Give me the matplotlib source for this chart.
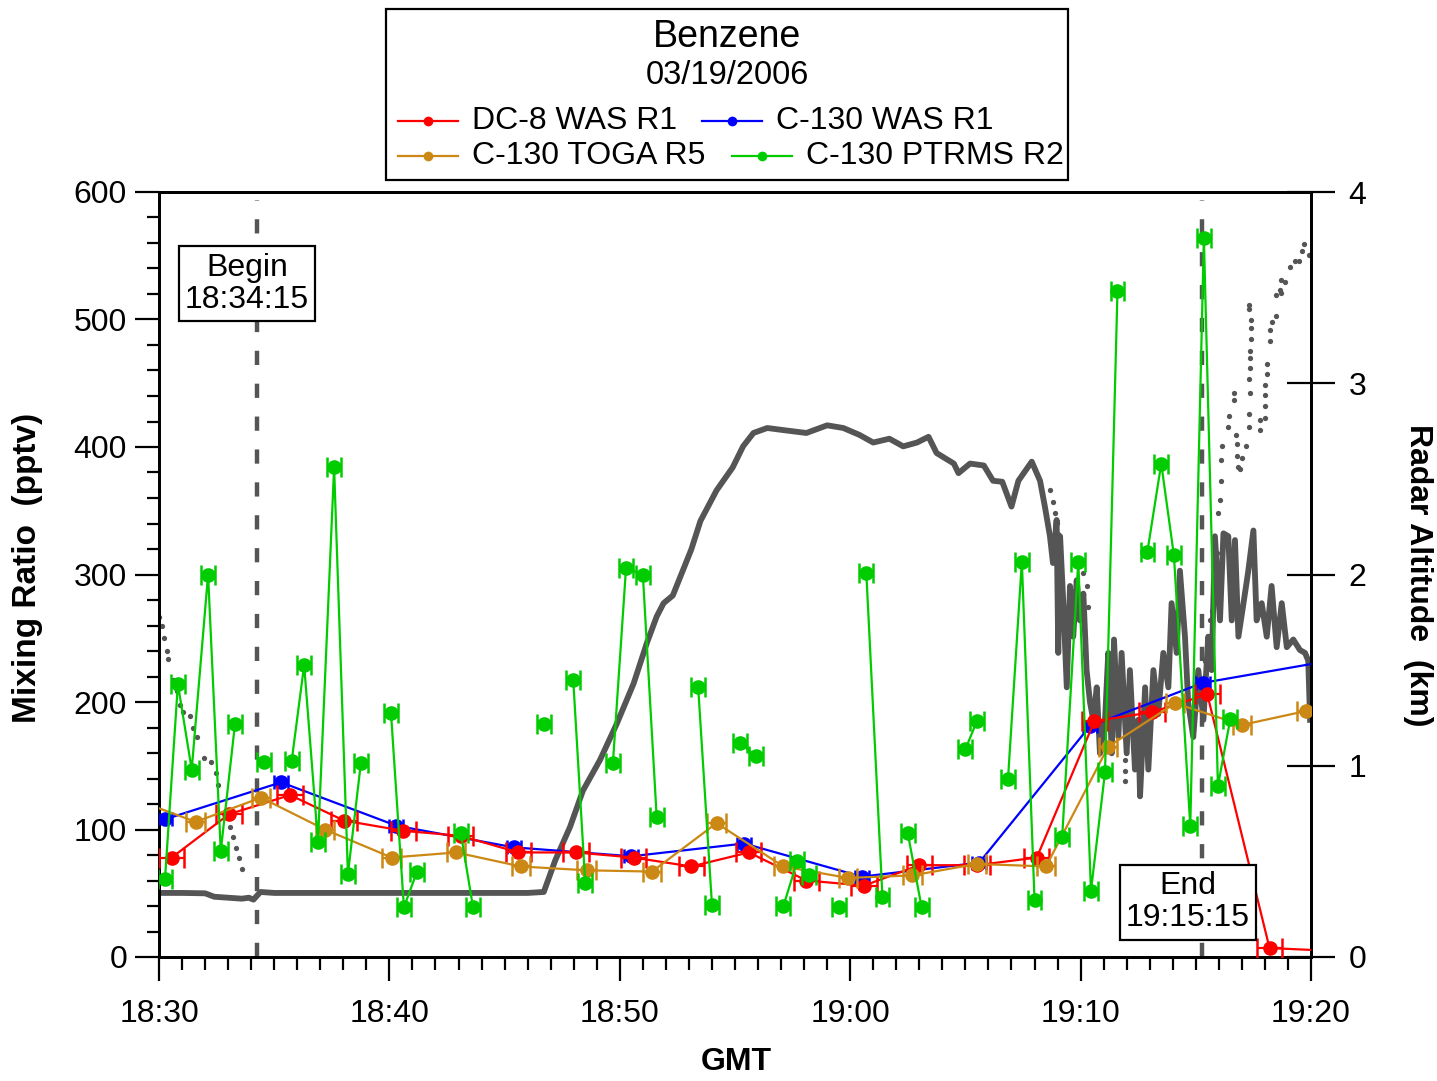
import numpy as np
import matplotlib
matplotlib.use("Agg")
import matplotlib.pyplot as plt
from matplotlib.lines import Line2D
from matplotlib.patches import Rectangle
from matplotlib.ticker import MultipleLocator

plt.rcParams['font.family'] = ['Liberation Sans', 'DejaVu Sans']
nan = np.nan

# ---------------- data (time in minutes after 18:30 GMT) ----------------
dc8_t = [0.55, 3.04, 5.69, 8.03, 10.6, 13.1, 15.6, 18.1, 20.6, 23.1, 25.6, 28.1,
         30.6, 33.0, 35.5, 38.1, 40.6, 43.1, 45.5, 48.2, 50.7]
dc8_v = [78, 112, 127, 107, 99, 95, 82, 82, 78, 71, 82, 60,
         56, 72, 72, 78, 185, 192, 206, 7, 5]
dc8_err = 0.55

c130was_t = [0.26, 5.3, 10.3, 15.4, 20.5, 25.4, 30.5, 35.6, 40.4, 45.3, 50.4]
c130was_v = [108, 137, 103, 86, 79, 89, 63, 74, 181, 215, 231]
c130was_err = 0.3

toga_t = [-0.5, 1.59, 4.43, 7.2, 10.1, 12.9, 15.7, 18.56, 21.4, 24.2, 27.1, 29.9,
          32.7, 35.5, 38.5, 41.2, 44.1, 47.0, 49.8]
toga_v = [120, 106, 125, 100, 78, 82, 71, 68, 67, 105, 71, 62,
          64, 73, 71, 165, 199, 182, 193]
toga_err = 0.4

ptrms_t = [0.26, 0.82, 1.42, 2.13, 2.68, 3.3, nan,
           4.56, nan,
           5.76, 6.3, 6.9, 7.6, 8.2, 8.76, nan,
           10.07, 10.63, 11.2, nan,
           13.1, 13.63, nan,
           16.7, nan,
           17.98, 18.5, nan,
           19.7, 20.27, 21.0, 21.6, nan,
           23.4, 24.0, nan,
           25.2, 25.9, nan,
           27.1, 27.7, 28.2, nan,
           29.5, nan,
           30.7, 31.4, nan,
           32.5, 33.1, nan,
           35.0, 35.5, nan,
           36.85, 37.45, 38.0, nan,
           39.2, 39.9, 40.45, 41.06, 41.6, nan,
           42.9, 43.5, 44.05, 44.76, 45.35, 45.96, 46.5]
ptrms_v = [61, 214, 147, 300, 83, 183, nan,
           153, nan,
           154, 229, 90, 384, 65, 152, nan,
           191, 39, 67, nan,
           97, 39, nan,
           183, nan,
           217, 58, nan,
           152, 305, 300, 110, nan,
           212, 41, nan,
           168, 158, nan,
           40, 75, 64, nan,
           39, nan,
           301, 47, nan,
           97, 39, nan,
           163, 185, nan,
           140, 310, 45, nan,
           94, 310, 52, 145, 522, nan,
           318, 387, 315, 103, 564, 134, 187]
ptrms_err = 0.3

# radar altitude (km), continuous record
alt_t = [0.0, 1.0, 2.0, 2.4, 3.0, 3.6, 3.9, 4.1, 4.4, 5.0, 8.0, 12.0, 16.0, 16.7,
         17.2, 17.84, 18.4, 19.14, 19.87, 20.6, 21.17, 21.6, 21.9, 22.3, 22.7, 23.1,
         23.5, 24.2, 24.9, 25.35, 25.8, 26.4, 27.1, 28.1, 29.0, 29.7, 30.4, 31.0,
         31.7, 32.3, 32.9, 33.4, 33.75, 34.5, 34.7, 35.2, 35.8, 36.2, 36.6, 37.0,
         37.3, 37.88, 38.24, 38.45, 38.67, 38.8,
         38.96, 39.03, 39.11, 39.25, 39.40, 39.54, 39.68, 39.83, 39.97, 40.12, 40.26,
         40.41, 40.55, 40.70, 40.84, 41.06, 41.20, 41.35, 41.45, 41.64, 41.78, 42.0,
         42.14, 42.36, 42.5, 42.58, 42.8, 42.94, 43.16, 43.37, 43.59, 43.81, 43.95,
         44.17, 44.31, 44.53, 44.67, 44.89, 45.11, 45.33, 45.54, 45.69, 45.83, 46.05,
         46.2, 46.41, 46.56, 46.7, 46.85, 47.07, 47.28, 47.5, 47.64, 47.86, 48.08,
         48.29, 48.51, 48.73, 48.95, 49.23, 49.52, 49.74, 49.88, 49.96]
alt_km = [0.335, 0.335, 0.333, 0.315, 0.31, 0.305, 0.31, 0.30, 0.34, 0.335, 0.335, 0.335,
          0.335, 0.34, 0.506, 0.68, 0.87, 1.03, 1.22, 1.43, 1.64, 1.78, 1.85, 1.89, 2.01,
          2.13, 2.28, 2.44, 2.56, 2.67, 2.74, 2.766, 2.755, 2.74, 2.78, 2.766, 2.73, 2.69,
          2.71, 2.67, 2.69, 2.72, 2.635, 2.58, 2.53, 2.58, 2.57, 2.49, 2.485, 2.355,
          2.49, 2.59, 2.49, 2.355, 2.20, 2.06,
          2.285, 1.59, 2.20, 1.85, 1.41, 1.94, 1.675, 1.97, 1.76, 1.90, 1.50,
          1.33, 1.24, 1.41, 1.065, 1.24, 1.59, 1.065, 1.66, 1.15, 1.59, 1.065,
          1.50, 0.98, 1.24, 0.84, 1.41, 0.98, 1.50, 1.27, 1.59, 1.41, 1.85,
          1.59, 2.02, 1.675, 1.33, 1.15, 1.50, 1.24, 1.675, 1.50, 2.20, 1.76,
          2.215, 2.20, 1.76, 2.18, 1.675, 1.85, 2.02, 2.23, 1.76, 1.85, 1.675,
          1.94, 1.62, 1.85, 1.62, 1.66, 1.605, 1.59, 1.55, 1.24]

# radar altitude (km), sparse second record (dots)
alt2_t = [0.01, 0.12, 0.22, 0.33, 0.39, 0.61, 0.77, 0.91, 1.03, 1.35, 1.46, 1.65,
          1.95, 2.24, 2.47, 2.57, 3.08, 3.2, 3.34, 3.49, 3.59,
          38.67, 38.8, 38.9, 38.96, 39.03, 39.1, 40.1, 40.26, 40.33,
          41.93, 41.93, 41.93,
          45.4, 45.47, 45.54, 45.61, 45.69, 45.74, 45.8, 45.86, 45.9,
          45.96, 46.03, 46.1, 46.1, 46.12, 46.4, 46.44, 46.66, 46.67, 46.74, 46.77,
          46.8, 46.83, 46.9, 47.0, 47.16, 47.3, 47.3, 47.34, 47.3, 47.34, 47.34,
          47.35, 47.4, 47.38, 47.38, 47.3, 47.3,
          47.8, 47.8, 48.0, 48.0, 48.0, 48.02, 48.1, 48.1, 48.2, 48.22, 48.3,
          48.5, 48.5, 48.67, 48.7, 48.7, 48.85, 49.1, 49.3, 49.5, 49.6, 49.7, 49.9]
alt2_km = [1.78, 1.73, 1.67, 1.60, 1.56, 1.45, 1.39, 1.32, 1.28, 1.26, 1.20, 1.15,
           1.04, 1.02, 0.96, 0.90, 0.68, 0.63, 0.57, 0.52, 0.46,
           2.44, 2.38, 2.32, 2.27, 2.21, 2.15, 2.01, 1.94, 1.83,
           1.03, 0.97, 0.92,
           1.55, 1.61, 1.67, 1.76, 1.81, 1.87, 1.95, 2.04, 2.11,
           2.32, 2.39, 2.49, 2.60, 2.67, 2.77, 2.83, 2.91, 2.95, 2.73, 2.68,
           2.62, 2.56, 2.55, 2.61, 2.67, 2.77, 2.84, 2.95, 3.02, 3.08, 3.13,
           3.17, 3.23, 3.29, 3.33, 3.39, 3.41,
           2.755, 2.81, 2.82, 2.88, 2.94, 2.99, 3.05, 3.10, 3.22, 3.28, 3.32,
           3.35, 3.46, 3.49, 3.54, 3.47, 3.53, 3.61, 3.64, 3.64, 3.69, 3.73, 3.67]

begin_t, end_t = 4.25, 45.25
xtick_pos = [0, 10, 20, 30, 40, 50]
xtick_labels = ['18:30', '18:40', '18:50', '19:00', '19:10', '19:20']

# ---------------- figure ----------------
W, H = 1437, 1081
fig = plt.figure(figsize=(W / 100, H / 100), dpi=100)
ax = fig.add_axes([159 / W, 1 - 957 / H, (1311 - 159) / W, (957 - 192) / H])
ax2 = ax.twinx()
ax.set_zorder(ax2.get_zorder() + 1)
ax.patch.set_visible(False)

gray = '#555555'
ax2.plot(alt_t, alt_km, color=gray, lw=4.2, solid_joinstyle='round', zorder=2)
ax2.plot(alt2_t, alt2_km, 'o', color=gray, ms=3.8, mew=0, zorder=2)
for tt in (begin_t, end_t):
    ax2.axvline(tt, ymin=0, ymax=0.99, color=gray, lw=3.2,
                dashes=(3.2, 4.2), zorder=1)

cfg = dict(fmt='o-', ms=9.5, lw=1.6, elinewidth=1.6, capthick=1.8)
ax.errorbar(c130was_t, c130was_v, xerr=c130was_err, color='#0000ff', capsize=5, zorder=3, **cfg)
ax.errorbar(dc8_t, dc8_v, xerr=dc8_err, color='#ff0000', capsize=7.5, zorder=4, **cfg)
ax.errorbar(toga_t, toga_v, xerr=toga_err, color='#cc8814', capsize=7.5, zorder=5, **cfg)
ax.errorbar(ptrms_t, ptrms_v, xerr=ptrms_err, color='#00cc00', capsize=7.5, zorder=6, **cfg)

box = dict(boxstyle='square,pad=0.2', fc='white', ec='black', lw=1.6)
ax.text(3.82, 528, 'Begin\n18:34:15', ha='center', va='center', fontsize=23,
        bbox=box, zorder=10, linespacing=1.1)
ax.text(44.66, 43, 'End\n19:15:15', ha='center', va='center', fontsize=23,
        bbox=box, zorder=10, linespacing=1.1)

ax.set_xlim(0, 50)
ax.set_ylim(0, 600)
ax2.set_ylim(0, 4)
ax.set_xticks(xtick_pos, xtick_labels)
ax.xaxis.set_minor_locator(MultipleLocator(1))
ax.yaxis.set_major_locator(MultipleLocator(100))
ax.yaxis.set_minor_locator(MultipleLocator(20))
ax2.yaxis.set_major_locator(MultipleLocator(1))

ax.tick_params(axis='both', which='major', direction='out', length=17, width=1.6,
               labelsize=23, pad=6)
ax.tick_params(axis='both', which='minor', direction='out', length=9, width=1.6)
ax.tick_params(axis='x', which='major', pad=13)
ax.tick_params(right=False, top=False, which='both')
ax2.tick_params(axis='y', which='major', direction='inout', length=34, width=1.6,
                labelsize=23, pad=10)
ax2.tick_params(axis='y', which='minor', length=0)
for a in (ax, ax2):
    for s in a.spines.values():
        s.set_linewidth(2)

fig.text(28 / W, 1 - 568 / H, 'Mixing Ratio  (pptv)', rotation=90, ha='center',
         va='center', fontsize=24, fontweight='bold')
fig.text(1418 / W, 1 - 575 / H, 'Radar Altitude  (km)', rotation=270, ha='center',
         va='center', fontsize=23, fontweight='bold')
fig.text(736 / W, 1 - 1062 / H, 'GMT', ha='center', va='center', fontsize=23,
         fontweight='bold')

# ---------------- legend box ----------------
fig.add_artist(Rectangle((386 / W, 1 - 180 / H), (1068 - 386) / W, (180 - 9) / H,
                         transform=fig.transFigure, fc='white', ec='black', lw=1.6))
fig.text(727 / W, 1 - 37 / H, 'Benzene', ha='center', va='center', fontsize=27)
fig.text(727 / W, 1 - 76 / H, '03/19/2006', ha='center', va='center', fontsize=23.5)
entries = [('DC-8 WAS R1', '#ff0000', 398, 121),
           ('C-130 WAS R1', '#0000ff', 702, 121),
           ('C-130 TOGA R5', '#cc8814', 398, 156),
           ('C-130 PTRMS R2', '#00cc00', 732, 156)]
for lab, col, x0, y0 in entries:
    yy = 1 - y0 / H
    fig.add_artist(Line2D([x0 / W, (x0 + 60) / W], [yy, yy], transform=fig.transFigure,
                          color=col, lw=1.6))
    fig.add_artist(Line2D([(x0 + 30) / W], [yy], transform=fig.transFigure, marker='o',
                          ms=7, mew=0, color=col))
    fig.text((x0 + 74) / W, yy, lab, ha='left', va='center', fontsize=23)

fig.savefig('out.png', dpi=100)
